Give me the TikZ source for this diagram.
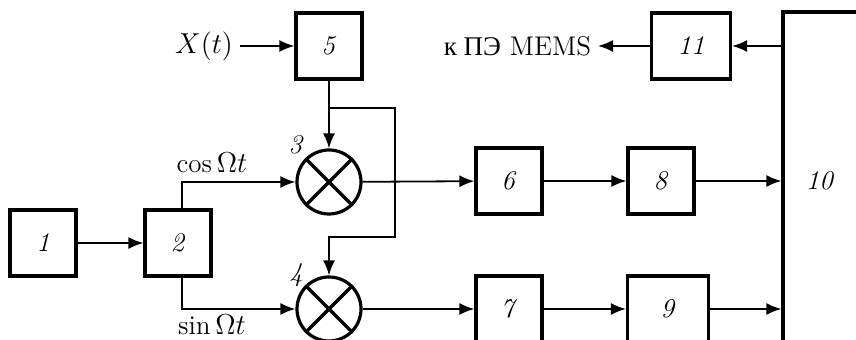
\documentclass[tikz,border=0pt]{standalone}
\usepackage{fontspec}
\newfontfamily\cyrfont{Liberation Serif}
\usetikzlibrary{arrows.meta}
\begin{document}
\begin{tikzpicture}[x=0.5pt, y=-0.5pt, font=\fontsize{13.5}{16}\selectfont,
  block/.style={draw, line width=1.6pt, minimum width=33pt, minimum height=33pt, inner sep=0pt},
  mult/.style={draw, circle, line width=1.6pt, minimum size=32pt, inner sep=0pt},
  sig/.style={line width=0.9pt, -{Latex[length=7.5pt,width=6pt]}}]
\useasboundingbox (0,0) rectangle (856,340);
\clip (0,0) rectangle (856,340);

\node[block] (b1) at (43,243) {\textit{1}};
\node[block] (b2) at (178,243) {\textit{2}};
\node[block] (b5) at (329,46) {\textit{5}};
\node[mult] (m3) at (329,182) {};
\node[mult] (m4) at (329,309) {};
\node[block] (b6) at (509,181) {\textit{6}};
\node[block] (b8) at (661,181) {\textit{8}};
\node[block] (b7) at (509,309) {\textit{7}};
\node[block, minimum width=40.5pt] (b9) at (668,309) {\textit{9}};
\node[block, minimum width=40pt, minimum height=169pt] (b10) at (823,181) {\hspace*{-3pt}\textit{10}};
\node[block, minimum width=39.5pt] (b11) at (691,46) {\textit{11}};

\node[anchor=east] (xin) at (240,46) {$X(t)$};
\node[anchor=east] (mems) at (598,46) {{\cyrfont к ПЭ} MEMS};
\node (l3) at (296,145) {\textit{3}};
\node (l4) at (296,275) {\textit{4}};
\node (lcos) at (212,163) {$\cos\Omega t$};
\node (lsin) at (212,325) {$\sin\Omega t$};

% multipliers
\foreach \m in {m3,m4} {
  \draw[line width=1.6pt] (\m.45) -- (\m.225);
  \draw[line width=1.6pt] (\m.135) -- (\m.-45);
}

\draw[sig] (xin) -- (b5);
\draw[sig] (b1) -- (b2);
\draw[sig] ([xshift=2pt]b2.north) |- (m3);
\draw[sig] ([xshift=2pt]b2.south) |- (m4);
\draw[sig] (b5) -- (m3);
\coordinate (br) at (329,108);
\coordinate (brb) at (395,237);
\draw[sig] (br) -| (brb) -| (m4);

\draw[sig] (m3) -- (b6);
\draw[sig] (b6) -- (b8);
\draw[sig] (b8) -- (b10);
\draw[sig] (m4) -- (b7);
\draw[sig] (b7) -- (b9);
\draw[sig] (b9) -- (b9 -| b10.west);
\draw[sig] (b11 -| b10.west) -- (b11);
\draw[sig] (b11) -- (mems);

\end{tikzpicture}
\end{document}
